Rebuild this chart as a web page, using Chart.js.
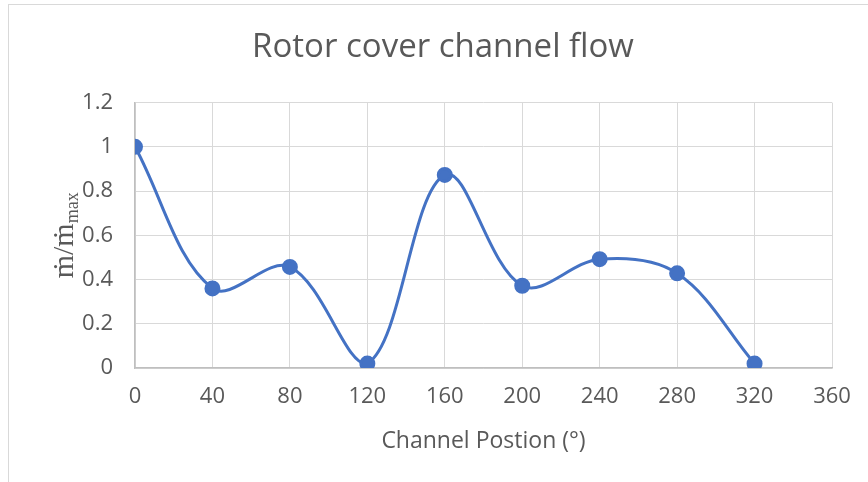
<!DOCTYPE html>
<html>
<head>
<meta charset="utf-8">
<script src="https://cdn.jsdelivr.net/npm/chart.js@4.4.0/dist/chart.umd.min.js"></script>
<style>
  html, body { margin: 0; padding: 0; background: #fff; }
  #caja { position: relative; width: 868px; height: 482px; }
  #marco { position: absolute; left: 8px; top: 4px; right: -2px; bottom: -2px;
           border-left: 1px solid #d9d9d9; border-top: 1px solid #d9d9d9; pointer-events: none; }
</style>
</head>
<body>
<div id="caja">
  <canvas id="grafico" width="868" height="482"></canvas>
  <div id="marco"></div>
</div>
<script>
// Datos
const posiciones = [0, 40, 80, 120, 160, 200, 240, 280, 320];
const caudal = [1, 0.36, 0.457, 0.02, 0.873, 0.372, 0.492, 0.428, 0.02];
const etiquetasX = ['0', '40', '80', '120', '160', '200', '240', '280', '320', '360'];
const etiquetasY = ['0', '0.2', '0.4', '0.6', '0.8', '1', '1.2'];

const gris = '#595959';
const azul = '#4472C4';

// Título del eje Y con subíndice (ṁ/ṁmax)
const tituloY = {
    id: 'tituloY',
    afterDraw(chart) {
        const ctx = chart.ctx;
        const { top, bottom } = chart.chartArea;
        ctx.save();
        ctx.translate(73, (top + bottom) / 2);
        ctx.rotate(-Math.PI / 2);
        ctx.fillStyle = gris;
        ctx.textBaseline = 'alphabetic';
        ctx.font = '30px "Liberation Serif", "DejaVu Serif", serif';
        const principal = 'ṁ/ṁ';
        const w1 = ctx.measureText(principal).width;
        ctx.font = '18px "Liberation Serif", "DejaVu Serif", serif';
        const sub = 'max';
        const w2 = ctx.measureText(sub).width;
        const x0 = -(w1 + w2) / 2;
        ctx.font = '30px "Liberation Serif", "DejaVu Serif", serif';
        ctx.fillText(principal, x0, 0);
        ctx.font = '18px "Liberation Serif", "DejaVu Serif", serif';
        ctx.fillText(sub, x0 + w1, 5);
        ctx.restore();
    }
};

const ctx = document.getElementById('grafico').getContext('2d');
const grafico = new Chart(ctx, {
    type: 'line',
    data: {
        datasets: [{
            label: 'Caudal',
            data: posiciones.map((p, i) => ({ x: p, y: caudal[i] })),
            borderColor: azul,
            backgroundColor: azul,
            borderWidth: 3,
            pointRadius: 6.5,
            pointHoverRadius: 6.5,
            tension: 0.36,
            fill: false
        }]
    },
    options: {
        responsive: false,
        animation: false,
        layout: { padding: { left: 54, right: 36, top: 0, bottom: 24 } },
        plugins: {
            legend: { display: false },
            tooltip: { enabled: false },
            title: {
                display: true,
                text: 'Rotor cover channel flow',
                color: gris,
                font: { family: '"Open Sans"', size: 33, weight: 'normal' },
                padding: { top: 28, bottom: 35 }
            }
        },
        scales: {
            x: {
                type: 'linear',
                min: 0,
                max: 360,
                afterFit(scale) { scale.height = 90; },
                ticks: {
                    stepSize: 40,
                    color: gris,
                    padding: 16,
                    font: { family: '"Open Sans"', size: 22 },
                    callback: (v) => etiquetasX[Math.round(v / 40)]
                },
                grid: { color: '#d9d9d9', lineWidth: 1, drawTicks: false },
                border: { color: '#bfbfbf', width: 1.5 },
                title: {
                    display: true,
                    text: 'Channel Postion (°)',
                    color: gris,
                    font: { family: '"Open Sans"', size: 23 },
                    padding: { top: 0, bottom: 3 }
                }
            },
            y: {
                min: 0,
                max: 1.2,
                afterFit(scale) { scale.width = 81; },
                ticks: {
                    stepSize: 0.2,
                    color: gris,
                    padding: 22,
                    font: { family: '"Open Sans"', size: 22 },
                    callback: (v) => etiquetasY[Math.round(v / 0.2)]
                },
                grid: { color: '#d9d9d9', lineWidth: 1, drawTicks: false },
                border: { color: '#bfbfbf', width: 1.5 }
            }
        }
    },
    plugins: [tituloY]
});
</script>
</body>
</html>
